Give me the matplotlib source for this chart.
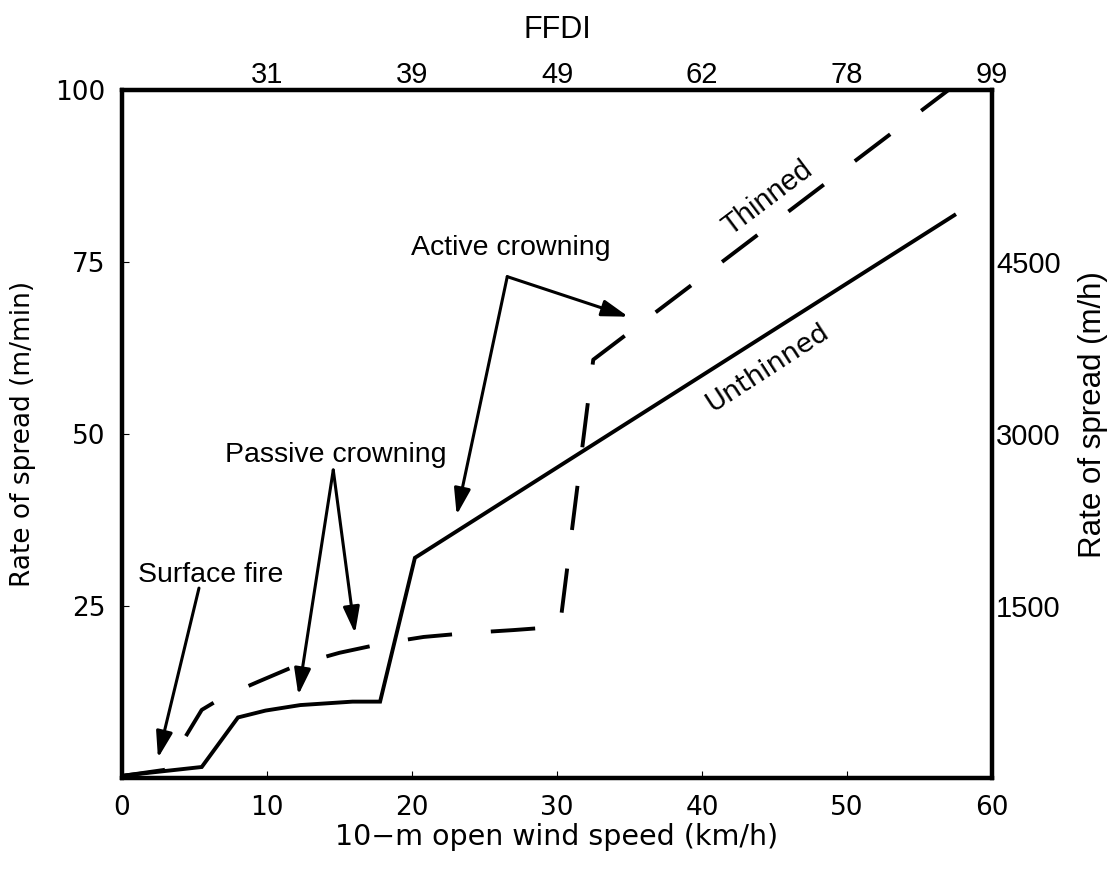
import numpy as np
import matplotlib
matplotlib.use('Agg')
import matplotlib.pyplot as plt

plt.rcParams['lines.scale_dashes'] = False

# wind speed (km/h) vs rate of spread (m/min)
wind_unthinned = [0.3, 5.5, 8.0, 9.9, 12.3, 15.9, 17.8, 20.2, 57.4]
ros_unthinned = [0.4, 1.6, 8.8, 9.8, 10.6, 11.1, 11.1, 32.0, 81.8]

wind_thinned = [0.0, 3.0, 5.5, 7.0, 9.4, 12.3, 15.0, 18.1, 20.8, 24.0, 27.0, 30.2, 32.5, 57.0]
ros_thinned = [0.3, 1.2, 9.9, 11.8, 14.0, 16.6, 18.2, 19.6, 20.5, 21.1, 21.5, 22.0, 60.8, 100.0]

x_ticks = [0, 10, 20, 30, 40, 50, 60]
y_ticks = [25, 50, 75, 100]
ffdi_pos = [10, 20, 30, 40, 50, 60]
ffdi_labels = ['31', '39', '49', '62', '78', '99']
mh_pos = [25, 50, 75]
mh_labels = ['1500', '3000', '4500']

fig = plt.figure(figsize=(11.12, 8.72), dpi=100)
ax = fig.add_axes([0.1097, 0.1078, 0.7824, 0.789])

ax.plot(wind_unthinned, ros_unthinned, color='black', lw=2.8, solid_joinstyle='miter')
ax.plot(wind_thinned, ros_thinned, color='black', lw=2.8, dashes=(32, 28),
        dash_capstyle='butt')

ax.set_xlim(0, 60)
ax.set_ylim(0, 100)
ax.set_xticks(x_ticks)
ax.set_yticks(y_ticks)
ax.tick_params(direction='in', length=5, width=0.8, labelsize=19, pad=12)
ax.set_xlabel('10\u2212m open wind speed (km/h)', fontsize=20.5, labelpad=2)
ax.set_ylabel('Rate of spread (m/min)', fontsize=19, labelpad=14)

# right axis (m/h)
axr = ax.twinx()
axr.set_ylim(0, 100)
axr.set_yticks(mh_pos)
axr.set_yticklabels(mh_labels, family='Liberation Sans', fontsize=21)
axr.tick_params(length=0, pad=3)
axr.set_ylabel('Rate of spread (m/h)', family='Liberation Sans', fontsize=22.5)
axr.yaxis.set_label_coords(1.099, 0.528)

# top axis (FFDI)
axt = ax.twiny()
axt.set_xlim(0, 60)
axt.set_xticks(ffdi_pos)
axt.set_xticklabels(ffdi_labels, family='Liberation Sans', fontsize=21)
axt.tick_params(length=0, pad=0.5)
axt.set_xlabel('FFDI', family='Liberation Sans', fontsize=22, labelpad=17)

for a in (ax, axr, axt):
    for s in a.spines.values():
        s.set_linewidth(3)

# annotations
arrow = dict(arrowstyle='-|>,head_length=0.8,head_width=0.25', lw=2.2, color='black',
             shrinkA=0, shrinkB=0, mutation_scale=20)
afont = dict(family='Liberation Sans', fontsize=20.5, ha='center', va='center')

ax.text(6.14, 29.5, 'Surface fire', **afont)
ax.annotate('', xy=(2.48, 2.9), xytext=(5.31, 27.6), arrowprops=arrow)

ax.text(14.72, 46.95, 'Passive crowning', **afont)
ax.annotate('', xy=(12.16, 12.06), xytext=(14.57, 44.77), arrowprops=arrow)
ax.annotate('', xy=(16.07, 21.03), xytext=(14.57, 44.77), arrowprops=arrow)

ax.text(26.83, 77.03, 'Active crowning', **afont)
ax.annotate('', xy=(23.08, 38.23), xytext=(26.57, 72.87), arrowprops=arrow)
ax.annotate('', xy=(34.92, 67.05), xytext=(26.57, 72.87), arrowprops=arrow)

ax.text(44.55, 84.3, 'Thinned', family='Liberation Sans', fontsize=21,
        rotation=37, ha='center', va='center', rotation_mode='anchor')
ax.text(44.55, 59.6, 'Unthinned', fontsize=19.5, rotation=33,
        ha='center', va='center', rotation_mode='anchor')

fig.savefig('out.png', dpi=100)
